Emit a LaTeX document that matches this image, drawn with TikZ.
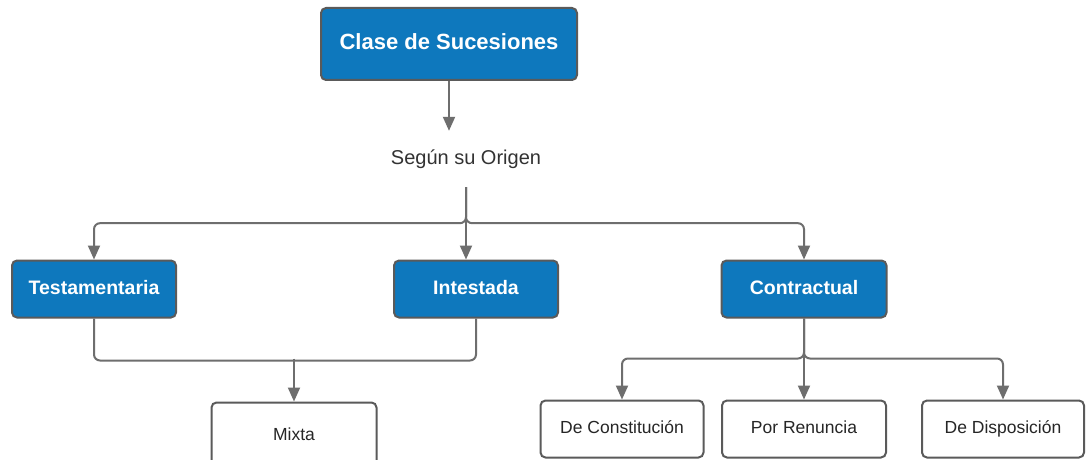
\documentclass[tikz,border=0pt]{standalone}
\usepackage{fontspec}
\setmainfont{Liberation Sans}
\usetikzlibrary{arrows.meta}
\definecolor{boxblue}{HTML}{0E78BD}
\definecolor{boxborder}{HTML}{5A5A5A}
\definecolor{linegray}{HTML}{6E6E6E}
\begin{document}
\begin{tikzpicture}[x=1pt,y=-1pt,
  bluebox/.style={draw=boxborder, line width=2pt, fill=boxblue, rounded corners=5pt, text=white, font=\bfseries\fontsize{19.5}{23}\selectfont, inner sep=0pt, minimum height=57pt, text height=14pt, text depth=4pt},
  whitebox/.style={draw=boxborder, line width=2pt, fill=white, rounded corners=5pt, text=black!85, font=\fontsize{17.5}{21}\selectfont, inner sep=0pt, minimum height=57pt, text height=13pt, text depth=4pt},
  conn/.style={draw=linegray, line width=2pt, -{Triangle[length=14pt,width=12pt]}, rounded corners=6pt},
  plainline/.style={draw=linegray, line width=2pt, rounded corners=6pt}]
\useasboundingbox (0,0) rectangle (1087,460);
\clip (0,0) rectangle (1087,460);
\fill[white] (0,0) rectangle (1087,460);
% nodes
\node[bluebox, minimum width=256pt, minimum height=72pt, font=\bfseries\fontsize{22}{26}\selectfont, text height=16pt, text depth=5pt] (top) at (449,44) {Clase de Sucesiones};
\node[minimum height=56pt, inner sep=0pt, font=\fontsize{20}{24}\selectfont, text=black!80] (seg) at (466,159) {Según su Origen};
\node[bluebox, minimum width=164pt] (test) at (94,289) {Testamentaria};
\node[bluebox, minimum width=164pt] (inte) at (476,289) {Intestada};
\node[bluebox, minimum width=165pt] (contr) at (804,289) {Contractual};
\node[whitebox, minimum width=165pt, minimum height=67pt] (mixta) at (294,436) {Mixta};
\node[whitebox, minimum width=163pt] (dc) at (622,429) {De Constitución};
\node[whitebox, minimum width=164pt] (pr) at (804,429) {Por Renuncia};
\node[whitebox, minimum width=162pt] (dd) at (1003,429) {De Disposición};
% connectors
\draw[conn] (top.south) -- (top.south |- seg.north);
\draw[conn] (seg.south) -- ++(0,36) -| (test.north);
\draw[conn] (seg.south) -- ++(0,36) -| (contr.north);
\draw[conn] (seg.south) -- (seg.south |- inte.north);
\draw[plainline] (test.south) -- ++(0,42) -| (inte.south);
\draw[conn] (mixta.north) ++(0,-43) -- (mixta.north);
\draw[conn] (contr.south) -- ++(0,40) -| (dc.north);
\draw[conn] (contr.south) -- ++(0,40) -| (dd.north);
\draw[conn] (contr.south) -- (pr.north);
\end{tikzpicture}
\end{document}
